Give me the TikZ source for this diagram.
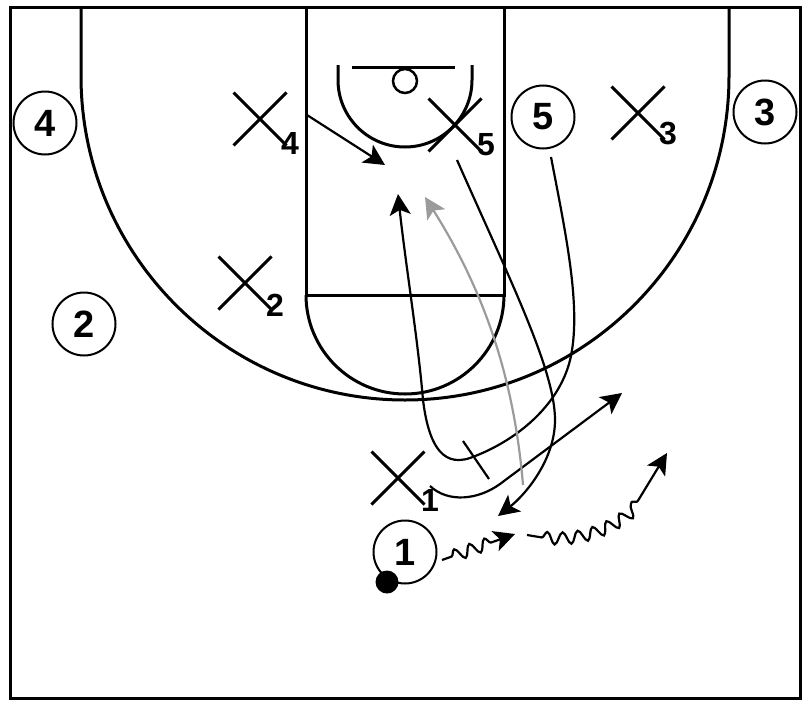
\documentclass[tikz,border=0pt]{standalone}
\usepackage{fontspec}
\setmainfont{Liberation Sans}
\usetikzlibrary{arrows.meta,shapes.misc,decorations.pathmorphing}
\definecolor{passgray}{RGB}{155,155,155}
\tikzset{
  court/.style={line width=3pt},
  offense/.style={circle,draw,line width=2pt,minimum size=63pt,inner sep=0pt,
    font=\fontsize{38}{38}\bfseries\selectfont},
  defense/.style={cross out,draw,line width=3pt,minimum size=50pt,inner sep=0pt},
  defnum/.style={inner sep=0pt,font=\fontsize{32}{32}\bfseries\selectfont},
  cutline/.style={line width=2.2pt,-{Stealth[length=21pt,width=21pt,inset=5pt]}},
  passline/.style={cutline,draw=passgray},
  dribble/.style={cutline,decorate,
    decoration={snake,segment length=16pt,amplitude=6pt,pre length=10pt,post length=18pt}},
}
\begin{document}
\begin{tikzpicture}[x=1pt,y=-1pt]
      \useasboundingbox (0,0) rectangle (808,704);
      \draw[court] (10,7) rectangle (800,698);
      \draw[court] (81,7) -- (81,76) arc[start angle=180,end angle=0,radius=324] -- (729,7);
      \draw[court] (306,7) -- (306,295) -- (504,295) -- (504,7);
      \draw[court] (306,295) arc[start angle=180,end angle=0,radius=99];
      \draw[court] (338,65) -- (338,80) arc[start angle=180,end angle=0,radius=67] -- (472,65);
      \draw[court] (352,67) -- (455,67);
      \draw[line width=2.5pt] (405,81) circle[radius=12];
      \draw
        (45,123) node[offense] (o4){4}
        (84,324) node[offense] (o2){2}
        (543,117) node[offense] (o5){5}
        (765,112) node[offense] (o3){3}
        (405,552) node[offense] (o1){1}
        (387,582) node[circle,fill,minimum size=23pt,inner sep=0pt] (ball){};
      \draw
        (260,119) node[defense] (x4){}
        (245,283) node[defense] (x2){}
        (638,113) node[defense] (x3){}
        (455,125) node[defense] (x5){}
        (398,478) node[defense] (x1){}
        (290,143) node[defnum] (n4){4}
        (275,305) node[defnum] (n2){2}
        (668,134) node[defnum] (n3){3}
        (486,145) node[defnum] (n5){5}
        (430,500) node[defnum] (n1){1};
      \coordinate (a4) at (307,115);
      \coordinate (b4) at (385,165);
      \coordinate (a5) at (551,157);
      \coordinate (b5) at (398,194);
      \coordinate (ax5) at (457,160);
      \coordinate (bx5) at (498,516);
      \coordinate (ax1) at (430,486);
      \coordinate (bx1) at (622,393);
      \coordinate (apass) at (523,485);
      \coordinate (bpass) at (425,197);
      \coordinate (ad1) at (442,560);
      \coordinate (bd1) at (515,534);
      \coordinate (ad2) at (527,535);
      \coordinate (bd2) at (667,453);
      \coordinate (s1) at (463,441);
      \coordinate (s2) at (489,479);
      \begin{scope}[cutline]
        \draw (a4) to (b4);
        \draw (a5) .. controls (565,230) and (580,300) .. (572,350)
          .. controls (565,400) and (520,440) .. (470,458)
          .. controls (440,468) and (428,440) .. (423,400)
          .. controls (418,340) and (405,260) .. (b5);
        \draw (ax5) .. controls (510,280) and (555,370) .. (555,420)
          .. controls (555,460) and (525,495) .. (bx5);
        \draw (ax1) .. controls (448,503) and (478,500) .. (500,484) -- (bx1);
      \end{scope}
      \draw[line width=2.2pt] (s1) -- (s2);
      \draw[passline] (apass) .. controls (515,390) and (490,300) .. (bpass);
      \draw[dribble] (ad1) -- (bd1);
      \draw[dribble,decoration={pre length=15pt,post length=55pt}]
        (ad2) .. controls (570,545) and (615,530) .. (640,498) -- (bd2);
    \end{tikzpicture}
\end{document}
